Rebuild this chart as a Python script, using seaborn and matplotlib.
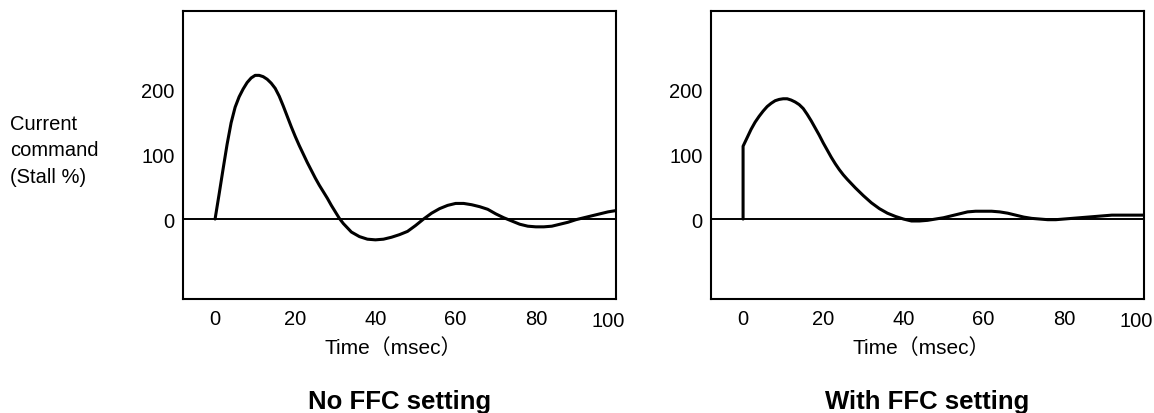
import matplotlib
matplotlib.use("Agg")
import matplotlib.pyplot as plt
import matplotlib.transforms as mtransforms
import seaborn as sns
import pandas as pd

# ---- data ----
t_no_ffc = [0, 1, 2, 3, 4, 5, 6, 7, 8, 9, 10, 11, 12, 13, 14, 15, 16, 17, 18, 19,
            20, 21, 22, 23, 24, 25, 26, 27, 28, 29, 30, 31, 32, 34, 36, 38, 40, 42,
            44, 46, 48, 50, 52, 54, 56, 58, 60, 62, 64, 66, 68, 70, 72, 74, 76, 78,
            80, 82, 84, 86, 88, 90, 92, 94, 96, 98, 100]
v_no_ffc = [0, 38, 77, 115, 148, 172, 188, 200, 210, 217, 221, 221, 219, 215, 209, 201, 189, 174, 158, 142,
            127, 113, 100, 87, 75, 63, 52, 42, 32, 21, 11, 1, -7, -20, -27, -31, -32, -31,
            -28, -24, -19, -10, 0, 9, 16, 21, 24, 24, 22, 19, 15, 8, 2, -3, -8, -11,
            -12, -12, -11, -8, -5, -1, 2, 5, 8, 11, 13]

t_ffc = [0, 0, 1, 2, 3, 4, 5, 6, 7, 8, 9, 10, 11, 12, 13, 14, 15, 16, 17, 18, 19,
         20, 21, 22, 23, 24, 25, 26, 28, 30, 32, 34, 36, 38, 40, 42, 44, 46, 48,
         50, 52, 54, 56, 58, 60, 62, 64, 66, 68, 70, 72, 74, 76, 78, 80, 82, 84,
         86, 88, 90, 92, 96, 100]
v_ffc = [0, 112, 125, 138, 149, 158, 166, 173, 178, 182, 184, 185, 185, 183, 180, 176, 170, 161, 151, 140, 129,
         117, 106, 95, 85, 76, 68, 61, 48, 36, 25, 16, 9, 4, 0, -3, -3, -2, 0,
         2, 5, 8, 11, 12, 12, 12, 11, 9, 6, 3, 1, 0, -1, -1, 0, 1, 2,
         3, 4, 5, 6, 6, 6]

x_ticks = [0, 20, 40, 60, 80, 100]
y_ticks = [0, 100, 200]
titles = ["No FFC setting", "With FFC setting"]
x_label = "Time\uff08msec\uff09"
y_label = "Current\ncommand\n(Stall %)"

sns.set_style("white")
plt.rcParams["font.family"] = ["Liberation Sans", "Noto Sans CJK JP", "DejaVu Sans"]
plt.rcParams["text.color"] = "black"
plt.rcParams["axes.labelcolor"] = "black"
plt.rcParams["xtick.color"] = "black"
plt.rcParams["ytick.color"] = "black"

W, H = 1154, 414
fig = plt.figure(figsize=(W / 100, H / 100), dpi=100)

ax_pos = [(183, 616), (711, 1144)]
top_px, bot_px = 12, 300

datasets = [(t_no_ffc, v_no_ffc), (t_ffc, v_ffc)]

for i, ((x0, x1), (tt, vv)) in enumerate(zip(ax_pos, datasets)):
    ax = fig.add_axes([x0 / W, (H - bot_px) / H, (x1 - x0) / W, (bot_px - top_px) / H])
    df = pd.DataFrame({"t": tt, "v": vv})
    sns.lineplot(data=df, x="t", y="v", ax=ax, estimator=None, sort=False,
                 color="black", linewidth=2.2)
    ax.axhline(0, color="black", linewidth=1.4, zorder=1)
    ax.set_xlim(-8, 100)
    ax.set_ylim(-123, 320)
    ax.set_xticks(x_ticks)
    ax.set_xticklabels([str(v) for v in x_ticks])
    ax.set_yticks(y_ticks)
    ax.set_yticklabels([str(v) for v in y_ticks])
    ax.tick_params(axis="both", direction="in", length=12.5, width=1.4,
                   color="black", labelsize=14.5, labelcolor="black", pad=6)
    ax.tick_params(axis="x", pad=7)
    for sp in ax.spines.values():
        sp.set_visible(True)
        sp.set_color("black")
        sp.set_linewidth(1.5)
    ax.set_xlabel("")
    ax.set_ylabel("")
    # shift the "100" label slightly left as in the reference
    lab = ax.get_xticklabels()[-1]
    lab.set_transform(lab.get_transform() +
                      mtransforms.ScaledTranslation(-8 / 100, -2 / 100, fig.dpi_scale_trans))
    ax.xaxis.get_major_ticks()[-1].tick1line.set_visible(False)

    cx = (x0 + x1) / 2
    fig.text((cx - 6) / W, (H - 348) / H, x_label, ha="center", va="center",
             fontsize=15, color="black")
    fig.text(cx / W, (H - 409) / H, titles[i], ha="center", va="baseline",
             fontsize=18.5, fontweight="bold", color="black")

fig.text(10 / W, (H - 151) / H, y_label, ha="left", va="center",
         fontsize=14.5, linespacing=1.5, color="black")

fig.savefig("out.png", dpi=100)
